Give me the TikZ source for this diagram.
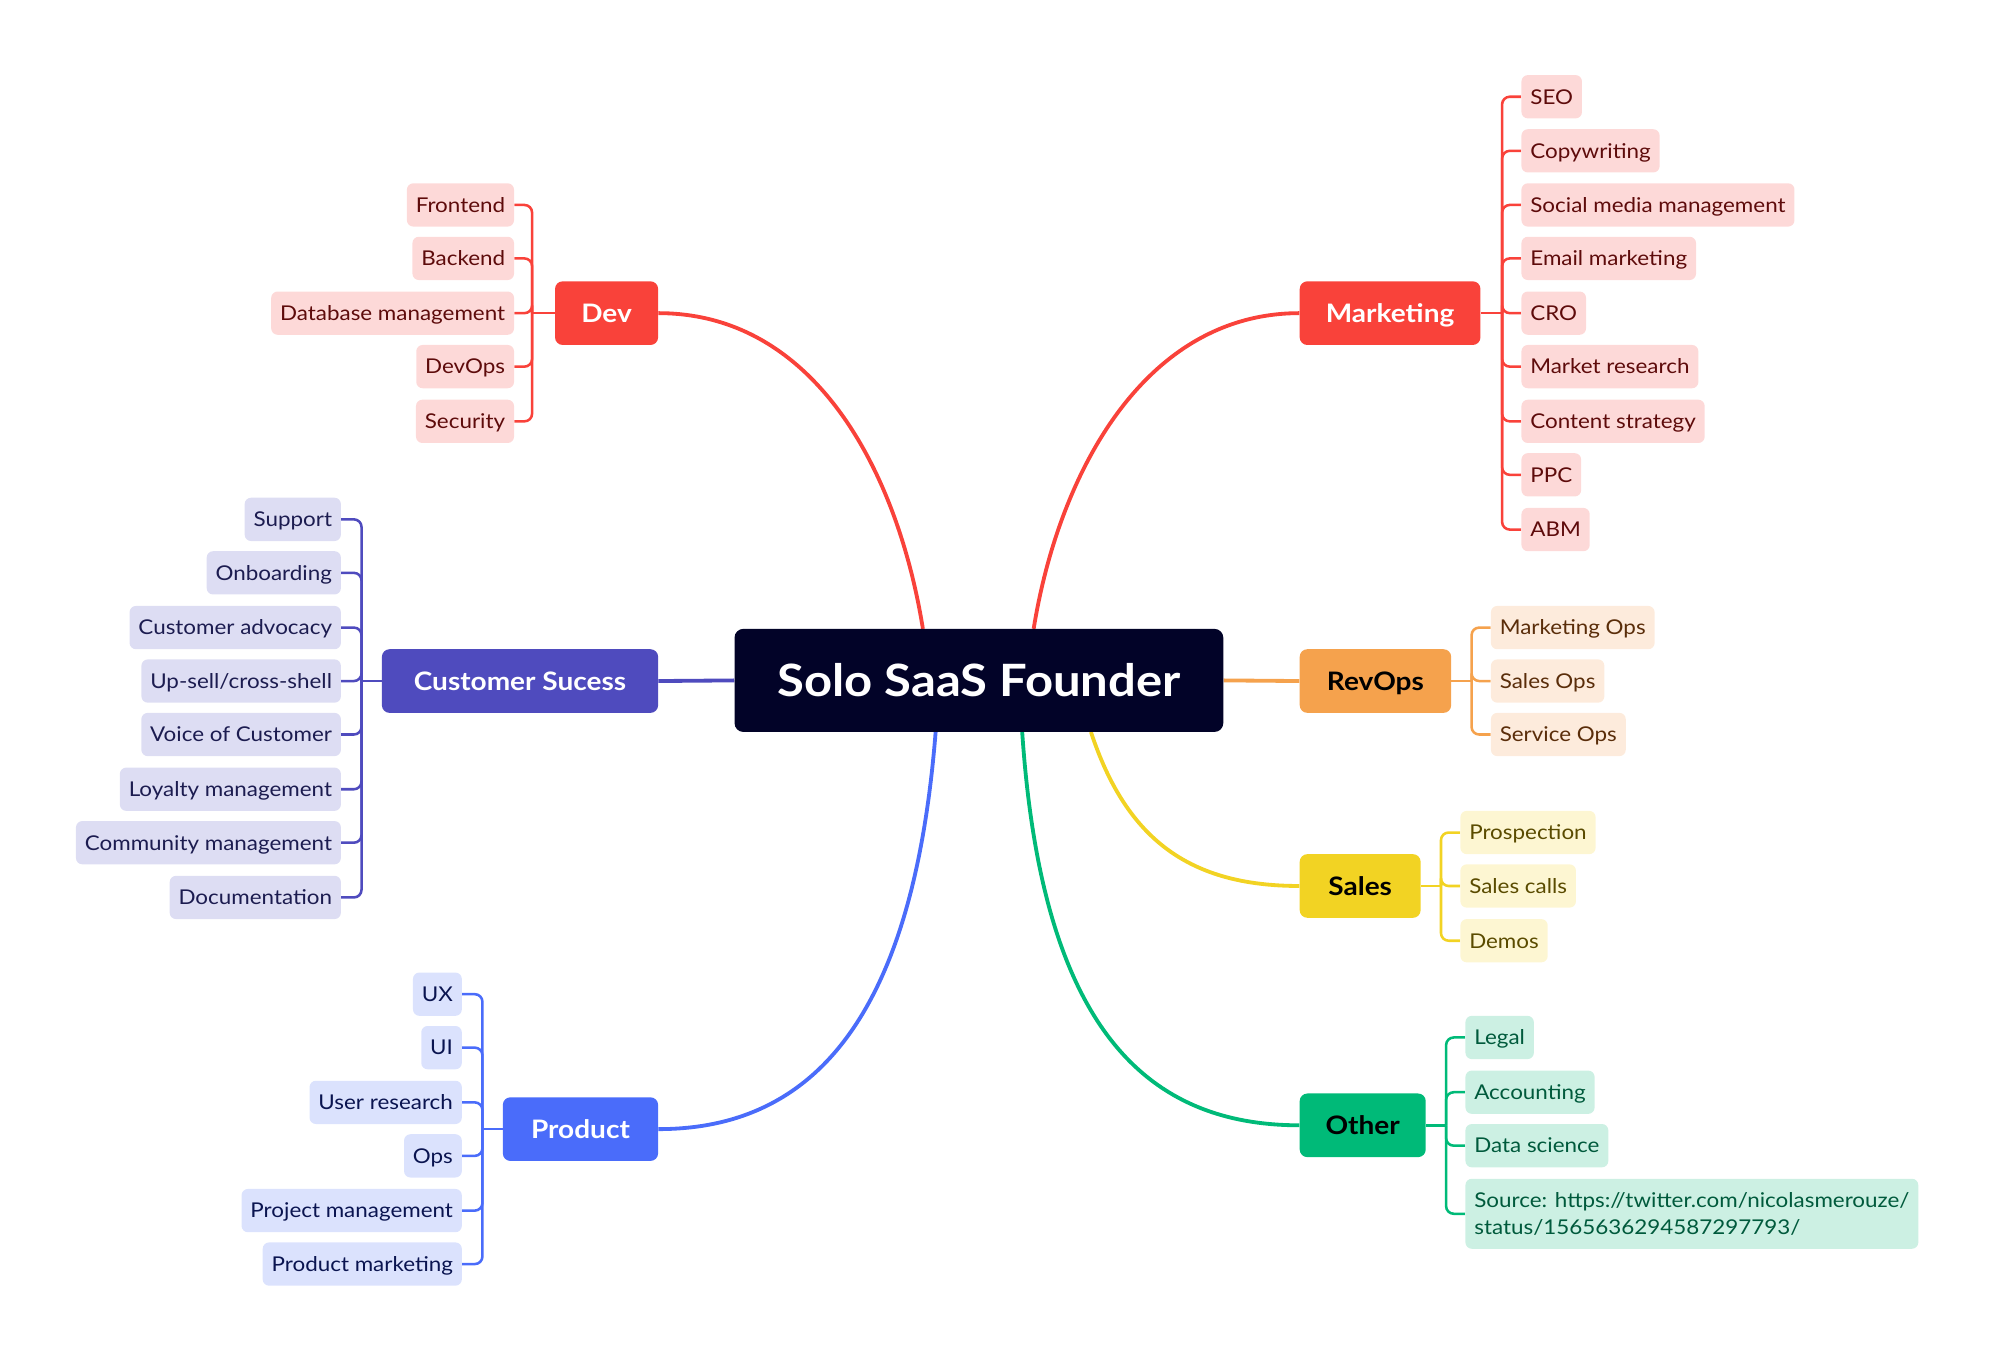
\documentclass[tikz,border=0pt]{standalone}
\usepackage{fontspec}
\setmainfont{Lato}[FakeStretch=1.1]
\usetikzlibrary{backgrounds}
\definecolor{ctrc}{RGB}{2,3,40}
\definecolor{redc}{RGB}{249,66,58}
\definecolor{redl}{RGB}{253,217,216}
\definecolor{redt}{RGB}{94,11,11}
\definecolor{indc}{RGB}{79,75,190}
\definecolor{indl}{RGB}{221,221,243}
\definecolor{indt}{RGB}{28,28,80}
\definecolor{bluc}{RGB}{74,108,250}
\definecolor{blul}{RGB}{219,226,253}
\definecolor{blut}{RGB}{10,20,80}
\definecolor{orac}{RGB}{245,162,77}
\definecolor{oral}{RGB}{253,235,220}
\definecolor{orat}{RGB}{90,45,10}
\definecolor{yelc}{RGB}{242,211,35}
\definecolor{yell}{RGB}{253,246,210}
\definecolor{yelt}{RGB}{90,75,0}
\definecolor{grnc}{RGB}{0,186,120}
\definecolor{grnl}{RGB}{204,240,227}
\definecolor{grnt}{RGB}{0,90,60}
\begin{document}
\begin{tikzpicture}[x=1pt,y=-1pt,
  leaf/.style={rounded corners=5pt, minimum height=34pt, inner xsep=7pt, inner ysep=0pt,
    font=\fontsize{16}{20}\selectfont, text height=11.5pt, text depth=0pt},
  branch/.style={rounded corners=6pt, minimum height=50pt, inner sep=0pt,
    font=\fontsize{20}{24}\selectfont\bfseries, text height=14.3pt, text depth=0pt},
  redleaf/.style={leaf, fill=redl, text=redt},
  indleaf/.style={leaf, fill=indl, text=indt},
  bluleaf/.style={leaf, fill=blul, text=blut},
  oraleaf/.style={leaf, fill=oral, text=orat},
  yelleaf/.style={leaf, fill=yell, text=yelt},
  grnleaf/.style={leaf, fill=grnl, text=grnt},
  twig/.style={line width=2pt, rounded corners=6pt},
  limb/.style={line width=3pt}
]
\useasboundingbox (0,0) rectangle (1568,1070);

% centre
\node[fill=ctrc, rounded corners=7pt, minimum width=384pt, minimum height=81pt, inner sep=0pt,
  text=white, font=\fontsize{35}{40}\selectfont\bfseries, text height=25pt, text depth=0pt]
  (ctr) at (769,534.5) {Solo SaaS Founder};

% branches
\node[branch, fill=redc, text=white, minimum width=81pt] (dev) at (476.5,246) {Dev};
\node[branch, fill=redc, text=white, minimum width=142pt] (mkt) at (1092,246) {Marketing};
\node[branch, fill=indc, text=white, minimum width=217pt] (cs) at (408.5,535) {Customer Sucess};
\node[branch, fill=bluc, text=white, minimum width=122pt] (prd) at (456,887) {Product};
\node[branch, fill=orac, text=black, minimum width=119pt] (rev) at (1080.5,535) {RevOps};
\node[branch, fill=yelc, text=black, minimum width=95pt] (sal) at (1068.5,696) {Sales};
\node[branch, fill=grnc, text=black, minimum width=99pt] (oth) at (1070.5,884) {Other};

% Dev leaves
\node[redleaf, anchor=east] (dv1) at (404,161) {Frontend};
\node[redleaf, anchor=east] (dv2) at (404,203) {Backend};
\node[redleaf, anchor=east] (dv3) at (404,246) {Database management};
\node[redleaf, anchor=east] (dv4) at (404,288) {DevOps};
\node[redleaf, anchor=east] (dv5) at (404,331) {Security};
\coordinate (dvj) at (418,246);

% Marketing leaves
\node[redleaf, anchor=west] (mk1) at (1195,76) {SEO};
\node[redleaf, anchor=west] (mk2) at (1195,118.5) {Copywriting};
\node[redleaf, anchor=west] (mk3) at (1195,161) {Social media management};
\node[redleaf, anchor=west] (mk4) at (1195,203) {Email marketing};
\node[redleaf, anchor=west] (mk5) at (1195,246) {CRO};
\node[redleaf, anchor=west] (mk6) at (1195,288) {Market research};
\node[redleaf, anchor=west] (mk7) at (1195,331) {Content strategy};
\node[redleaf, anchor=west] (mk8) at (1195,373) {PPC};
\node[redleaf, anchor=west] (mk9) at (1195,416) {ABM};
\coordinate (mkj) at (1180,246);

% Customer success leaves
\node[indleaf, anchor=east] (cs1) at (268,408) {Support};
\node[indleaf, anchor=east] (cs2) at (268,450) {Onboarding};
\node[indleaf, anchor=east] (cs3) at (268,493) {Customer advocacy};
\node[indleaf, anchor=east] (cs4) at (268,535) {Up-sell/cross-shell};
\node[indleaf, anchor=east] (cs5) at (268,577) {Voice of Customer};
\node[indleaf, anchor=east] (cs6) at (268,620) {Loyalty management};
\node[indleaf, anchor=east] (cs7) at (268,662) {Community management};
\node[indleaf, anchor=east] (cs8) at (268,705) {Documentation};
\coordinate (csj) at (284,535);

% Product leaves
\node[bluleaf, anchor=east] (pr1) at (363,781) {UX};
\node[bluleaf, anchor=east] (pr2) at (363,823) {UI};
\node[bluleaf, anchor=east] (pr3) at (363,866) {User research};
\node[bluleaf, anchor=east] (pr4) at (363,908) {Ops};
\node[bluleaf, anchor=east] (pr5) at (363,951) {Project management};
\node[bluleaf, anchor=east] (pr6) at (363,993) {Product marketing};
\coordinate (prj) at (379,887);

% RevOps leaves
\node[oraleaf, anchor=west] (rv1) at (1171,493) {Marketing Ops};
\node[oraleaf, anchor=west] (rv2) at (1171,535) {Sales Ops};
\node[oraleaf, anchor=west] (rv3) at (1171,577) {Service Ops};
\coordinate (rvj) at (1156,535);

% Sales leaves
\node[yelleaf, anchor=west] (sl1) at (1147,654) {Prospection};
\node[yelleaf, anchor=west] (sl2) at (1147,696) {Sales calls};
\node[yelleaf, anchor=west] (sl3) at (1147,739) {Demos};
\coordinate (slj) at (1132,696);

% Other leaves
\node[grnleaf, anchor=west] (ot1) at (1151,815) {Legal};
\node[grnleaf, anchor=west] (ot2) at (1151,858) {Accounting};
\node[grnleaf, anchor=west] (ot3) at (1151,900) {Data science};
\node[rounded corners=5pt, fill=grnl, text=grnt, anchor=west, align=left,
  minimum height=55pt, inner xsep=7pt, inner ysep=0pt,
  font=\fontsize{16}{21.5}\selectfont] (ot4) at (1151,953.5)
  {Source: https://twitter.com/nicolasmerouze/\\status/1565636294587297793/};
\coordinate (otj) at (1136,884);

% anchor points on the centre box
\coordinate (cDev) at (725,494);
\coordinate (cMkt) at (812,494);
\coordinate (cPrd) at (735,575);
\coordinate (cOth) at (803,575);
\coordinate (cSal) at (857,575);

\begin{scope}[on background layer]
  \draw[limb, redc] (dev.east) .. controls (640,246) and (705,370) .. (cDev);
  \draw[limb, redc] (mkt.west) .. controls (900,246) and (832,370) .. (cMkt);
  \draw[limb, indc] (cs.east) -- (ctr.west);
  \draw[limb, orac] (ctr.east) -- (rev.west);
  \draw[limb, bluc] (cPrd) .. controls (718,790) and (645,887) .. (prd.east);
  \draw[limb, grnc] (cOth) .. controls (818,800) and (895,884) .. (oth.west);
  \draw[limb, yelc] (cSal) .. controls (885,660) and (935,696) .. (sal.west);

  \foreach \n in {dv1,dv2,dv3,dv4,dv5} \draw[twig, redc] (\n.east) -| (dvj);
  \draw[twig, redc] (dev.west) -- (dvj);
  \foreach \n in {mk1,mk2,mk3,mk4,mk5,mk6,mk7,mk8,mk9} \draw[twig, redc] (\n.west) -| (mkj);
  \draw[twig, redc] (mkt.east) -- (mkj);
  \foreach \n in {cs1,cs2,cs3,cs4,cs5,cs6,cs7,cs8} \draw[twig, indc] (\n.east) -| (csj);
  \draw[twig, indc] (cs.west) -- (csj);
  \foreach \n in {pr1,pr2,pr3,pr4,pr5,pr6} \draw[twig, bluc] (\n.east) -| (prj);
  \draw[twig, bluc] (prd.west) -- (prj);
  \foreach \n in {rv1,rv2,rv3} \draw[twig, orac] (\n.west) -| (rvj);
  \draw[twig, orac] (rev.east) -- (rvj);
  \foreach \n in {sl1,sl2,sl3} \draw[twig, yelc] (\n.west) -| (slj);
  \draw[twig, yelc] (sal.east) -- (slj);
  \foreach \n in {ot1,ot2,ot3,ot4} \draw[twig, grnc] (\n.west) -| (otj);
  \draw[twig, grnc] (oth.east) -- (otj);
\end{scope}
\end{tikzpicture}
\end{document}
